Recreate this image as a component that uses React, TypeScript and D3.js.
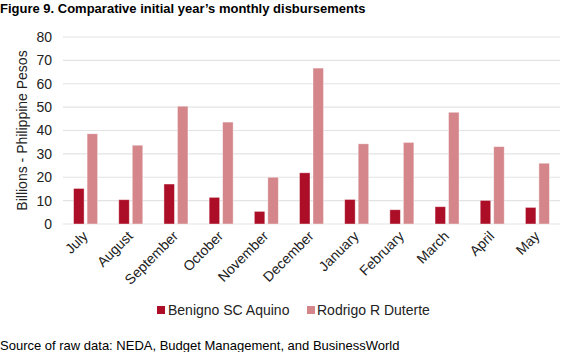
import React from "react";
import * as d3 from "d3";

const months = ["July","August","September","October","November","December","January","February","March","April","May"];
const aquino = [15.2, 10.4, 17.1, 11.4, 5.4, 21.9, 10.5, 6.1, 7.4, 10.1, 7.1];
const duterte = [38.6, 33.7, 50.4, 43.6, 20.0, 66.7, 34.3, 34.9, 47.8, 33.1, 26.0];
const seriesNames = ["Benigno SC Aquino", "Rodrigo R Duterte"];
const colors = ["#AC0E27", "#D4868B"];
const yTicks = [0, 10, 20, 30, 40, 50, 60, 70, 80];

const W = 579, H = 352;
const left = 63, right = 560, top = 37, bottom = 224;
const font = "'Liberation Sans', Arial, sans-serif";

export default function App() {
  const x = d3.scaleBand<string>().domain(months).range([left, right]).padding(0);
  const y = d3.scaleLinear().domain([0, 80]).range([bottom, top]);
  const barW = 10.5;
  const gap = 3;
  const series = [aquino, duterte];
  return (
    <svg width={W} height={H} style={{ position: "absolute", left: 0, top: 0 }} fontFamily={font}>
      <rect width={W} height={H} fill="#fff" />
      <text x={0} y={13} fontSize={13} fontWeight="bold" fill="#000">Figure 9. Comparative initial year’s monthly disbursements</text>
      {yTicks.map((t) => (
        <g key={t}>
          <line x1={left} x2={right} y1={y(t)} y2={y(t)} stroke="#E3E3E3" strokeWidth={1.2} />
          <text x={52} y={y(t)} dy="0.35em" textAnchor="end" fontSize={14} fill="#222">{t}</text>
        </g>
      ))}
      <text transform={`translate(27,${(top + bottom) / 2}) rotate(-90)`} textAnchor="middle" fontSize={14} fill="#222">Billions - Philippine Pesos</text>
      {series.map((vals, si) =>
        vals.map((v, i) => {
          const c = x(months[i])! + x.bandwidth() / 2;
          const bx = si === 0 ? c - gap / 2 - barW : c + gap / 2;
          return (
            <rect key={`${si}-${i}`} x={bx} y={y(v)} width={barW} height={y(0) - y(v)} fill={colors[si]} stroke="#fff" strokeOpacity={0.5} strokeWidth={0.8} />
          );
        })
      )}
      {months.map((m) => {
        const c = x(m)! + x.bandwidth() / 2;
        return (
          <text key={m} transform={`translate(${c + 3},${bottom + 13}) rotate(-45)`} textAnchor="end" fontSize={14} fill="#222">{m}</text>
        );
      })}
      <g>
        <rect x={157} y={306} width={8} height={8} fill={colors[0]} />
        <text x={168} y={310} dy="0.35em" fontSize={14} fill="#222">{seriesNames[0]}</text>
        <rect x={307} y={306} width={8} height={8} fill={colors[1]} />
        <text x={317} y={310} dy="0.35em" fontSize={14} fill="#222">{seriesNames[1]}</text>
      </g>
      <text x={0} y={345} dy="0.35em" fontSize={13} fill="#000">Source of raw data: NEDA, Budget Management, and BusinessWorld</text>
    </svg>
  );
}
